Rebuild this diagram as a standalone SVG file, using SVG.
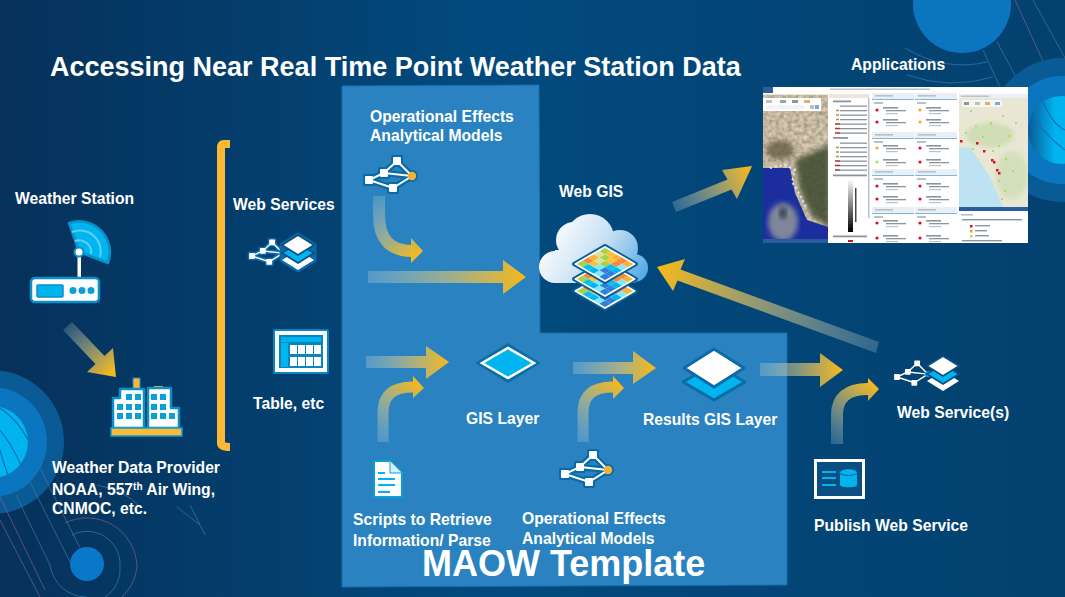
<svg xmlns="http://www.w3.org/2000/svg" width="1065" height="597" viewBox="0 0 1065 597">
<style>
text{font-family:"Liberation Sans",Arial,sans-serif;font-weight:700;fill:#fff}
.l{font-size:15.7px}
.deco{fill:none;stroke:#3f7fb0;stroke-width:1;opacity:.65}
.pink{fill:none;stroke:#8a6a8a;stroke-width:1;opacity:.6}
.dk{fill:none;stroke:#0a6fb5;stroke-width:1.2}
.bar{fill:#8d959c}
.bl{fill:#b9c0c6}
.hd{fill:#e9eff4}
.ln{fill:#7fb7dc}
.cy{fill:#00b4f0}
.wb{fill:#fff;stroke:#0a8fc8;stroke-width:2.5;stroke-linejoin:round}
</style>
<defs>
<linearGradient id="bg" x1="0" y1="0" x2="1" y2="0"><stop offset="0" stop-color="#06315a"/><stop offset=".45" stop-color="#024a7e"/><stop offset="1" stop-color="#03416f"/></linearGradient>
<linearGradient id="a1" gradientUnits="userSpaceOnUse" x1="66" y1="326" x2="112" y2="372"><stop offset="0" stop-color="#b8cfd8" stop-opacity=".2"/><stop offset="1" stop-color="#f4b81c"/></linearGradient>
<linearGradient id="a2" gradientUnits="userSpaceOnUse" x1="368" y1="0" x2="524" y2="0"><stop offset="0" stop-color="#b8cfd8" stop-opacity=".3"/><stop offset="1" stop-color="#f4b81c"/></linearGradient>
<linearGradient id="a3" gradientUnits="userSpaceOnUse" x1="366" y1="0" x2="447" y2="0"><stop offset="0" stop-color="#b8cfd8" stop-opacity=".3"/><stop offset="1" stop-color="#f4b81c"/></linearGradient>
<linearGradient id="a4" gradientUnits="userSpaceOnUse" x1="573" y1="0" x2="654" y2="0"><stop offset="0" stop-color="#b8cfd8" stop-opacity=".3"/><stop offset="1" stop-color="#f4b81c"/></linearGradient>
<linearGradient id="a5" gradientUnits="userSpaceOnUse" x1="760" y1="0" x2="841" y2="0"><stop offset="0" stop-color="#b8cfd8" stop-opacity=".3"/><stop offset="1" stop-color="#f4b81c"/></linearGradient>
<linearGradient id="a6" gradientUnits="userSpaceOnUse" x1="674" y1="207" x2="750" y2="170"><stop offset="0" stop-color="#b8cfd8" stop-opacity=".25"/><stop offset="1" stop-color="#f4b81c"/></linearGradient>
<linearGradient id="a7" gradientUnits="userSpaceOnUse" x1="878" y1="347" x2="660" y2="270"><stop offset="0" stop-color="#b8cfd8" stop-opacity=".25"/><stop offset="1" stop-color="#f4b81c"/></linearGradient>
<linearGradient id="c1" gradientUnits="userSpaceOnUse" x1="379" y1="196" x2="423" y2="251"><stop offset="0" stop-color="#b8cfd8" stop-opacity=".25"/><stop offset="1" stop-color="#f4b81c"/></linearGradient>
<linearGradient id="c2" gradientUnits="userSpaceOnUse" x1="383" y1="442" x2="424" y2="388"><stop offset="0" stop-color="#b8cfd8" stop-opacity=".25"/><stop offset="1" stop-color="#f4b81c"/></linearGradient>
<linearGradient id="c3" gradientUnits="userSpaceOnUse" x1="583" y1="442" x2="624" y2="388"><stop offset="0" stop-color="#b8cfd8" stop-opacity=".25"/><stop offset="1" stop-color="#f4b81c"/></linearGradient>
<linearGradient id="c4" gradientUnits="userSpaceOnUse" x1="837" y1="444" x2="879" y2="389"><stop offset="0" stop-color="#b8cfd8" stop-opacity=".25"/><stop offset="1" stop-color="#f4b81c"/></linearGradient>
<linearGradient id="cloud" gradientUnits="userSpaceOnUse" x1="550" y1="225" x2="645" y2="285"><stop offset="0" stop-color="#fff"/><stop offset=".5" stop-color="#c5dff3"/><stop offset="1" stop-color="#4aa3e4"/></linearGradient>
<linearGradient id="gray" x1="0" y1="0" x2="0" y2="1"><stop offset="0" stop-color="#fff"/><stop offset="1" stop-color="#000"/></linearGradient>
<linearGradient id="rshade" x1="0" y1="0" x2="1" y2="0"><stop offset="0" stop-color="#0a5a96"/><stop offset=".4" stop-color="#00b4f0"/></linearGradient>
<filter id="terrain" x="0" y="0" width="1" height="1"><feTurbulence type="fractalNoise" baseFrequency=".25" numOctaves="3" seed="4"/><feColorMatrix values=".6 0 0 0 .25 .55 0 0 0 .2 .4 0 0 0 .15 0 0 0 0 1"/></filter>
<filter id="b1"><feGaussianBlur stdDeviation="2.5"/></filter>
<filter id="b2"><feGaussianBlur stdDeviation=".5"/></filter>
<filter id="soft" x="0" y="0" width="1" height="1"><feGaussianBlur stdDeviation=".4"/></filter>
<clipPath id="satclip"><rect x="763" y="95" width="65" height="148"/></clipPath>
<clipPath id="mapclip"><rect x="959" y="98" width="69" height="109"/></clipPath>
<g id="net-halo" fill="#0a6aa6" stroke="#0a6aa6" stroke-linejoin="round">
<path d="M0,0L15,-7L28,-19L43,-4L24,8L0,0M15,-7L43,-4" fill="none" stroke-width="6.5"/>
<rect x="-4" y="-4" width="8" height="8" stroke-width="4"/><rect x="11" y="-11" width="8" height="8" stroke-width="4"/><rect x="24" y="-23" width="8" height="8" stroke-width="4"/><rect x="20" y="4" width="8" height="8" stroke-width="4"/><circle cx="43" cy="-4" r="4.5" stroke-width="3"/>
</g>
<g id="net-core" fill="#fff">
<path d="M0,0L15,-7L28,-19L43,-4L24,8L0,0M15,-7L43,-4" fill="none" stroke="#fff" stroke-width="2"/>
<rect x="-4" y="-4" width="8" height="8" rx="1"/><rect x="11" y="-11" width="8" height="8" rx="1"/><rect x="24" y="-23" width="8" height="8" rx="1"/><rect x="20" y="4" width="8" height="8" rx="1"/><circle cx="43" cy="-4" r="4.2" fill="currentColor"/>
</g>
<g id="stack">
<polygon points="-16,15 0,5 16,15 0,25" fill="#fff"/>
<polygon points="-16,8 0,-2 16,8 0,18" fill="#00b4f0" stroke="#0a4f84" stroke-width="1.8"/>
<polygon points="-16,0 0,-10 16,0 0,10" fill="#fff" stroke="#0a4f84" stroke-width="1.8"/>
</g>
<polygon id="t" points="-5.6,0 0,-3.2 5.6,0 0,3.2"/>
<g id="mosaic">
<polygon points="-31,0 0,-18 31,0 0,18" fill="#0a5f94" stroke="#0a5f94" stroke-width="4" stroke-linejoin="round"/>
<polygon points="-29.5,0 0,-17 29.5,0 0,17" fill="#fff" stroke="#fff" stroke-width="2" stroke-linejoin="round"/>
<use href="#t" x="0" y="-12.8" fill="#a5d24a"/><use href="#t" x="5.6" y="-9.6" fill="#f9c23c"/><use href="#t" x="-5.6" y="-9.6" fill="#d8e2a0"/>
<use href="#t" x="11.2" y="-6.4" fill="#f9b233"/><use href="#t" x="0" y="-6.4" fill="#a5d24a"/><use href="#t" x="-11.2" y="-6.4" fill="#f9b233"/>
<use href="#t" x="16.8" y="-3.2" fill="#f58a3c"/><use href="#t" x="5.6" y="-3.2" fill="#f9c23c"/><use href="#t" x="-5.6" y="-3.2" fill="#d8e2a0"/><use href="#t" x="-16.8" y="-3.2" fill="#f58a3c"/>
<use href="#t" x="22.4" y="0" fill="#f9b233"/><use href="#t" x="11.2" y="0" fill="#f58a3c"/><use href="#t" x="0" y="0" fill="#a5d24a"/><use href="#t" x="-11.2" y="0" fill="#f9c23c"/><use href="#t" x="-22.4" y="0" fill="#a5d24a"/>
<use href="#t" x="16.8" y="3.2" fill="#7fe8ff"/><use href="#t" x="5.6" y="3.2" fill="#00c0f5"/><use href="#t" x="-5.6" y="3.2" fill="#7fe8ff"/><use href="#t" x="-16.8" y="3.2" fill="#00c0f5"/>
<use href="#t" x="11.2" y="6.4" fill="#00b4f0"/><use href="#t" x="0" y="6.4" fill="#2d7fd8"/><use href="#t" x="-11.2" y="6.4" fill="#00b4f0"/>
<use href="#t" x="5.6" y="9.6" fill="#2d7fd8"/><use href="#t" x="-5.6" y="9.6" fill="#7fe8ff"/>
<use href="#t" x="0" y="12.8" fill="#2d7fd8"/>
</g>
<g id="card">
<circle cx="0" cy="0" r="1.6" fill="currentColor"/>
<rect class="bar" x="6" y="-3" width="15" height="1.6"/><rect class="bar" x="9" y="0" width="20" height="1.3"/><rect class="bl" x="9" y="3" width="12" height="1.2"/>
</g>
<g id="sec">
<rect class="hd" x="0" y="0" width="42" height="6"/><rect class="bl" x="3" y="2" width="18" height="1.6"/>
<rect class="ln" x="0" y="6" width="42" height="1"/><rect class="bl" x="2" y="9" width="9" height="2"/>
</g>
</defs>

<rect id="background" width="1065" height="597" fill="url(#bg)"/>

<g id="decor-right">
<circle cx="962" cy="4" r="49" fill="#0c75c0"/>
<path class="pink" d="M1015,0L1047,70"/>
<path class="deco" d="M1033,0L1065,58"/>
<path class="deco" d="M997,42L1015,75"/>
<path class="deco" d="M983,50L1000,87"/>
<path class="deco" d="M905,48Q945,72 987,62"/>
<path class="deco" d="M907,75Q950,90 993,77"/>
<circle cx="1062" cy="130" r="72" fill="#0a5a96"/>
<circle cx="1062" cy="130" r="54" fill="#0c75c0"/>
<circle cx="1062" cy="130" r="34" fill="url(#rshade)"/>
<path class="dk" d="M1040,95Q1052,125 1065,130M1028,112Q1045,135 1065,150"/>
</g>
<g id="decor-left">
<circle cx="-8" cy="442" r="72" fill="#0a5a96"/>
<circle cx="-8" cy="442" r="55" fill="#0c75c0"/>
<circle cx="-8" cy="442" r="36" fill="#00b4f0"/>
<path class="dk" d="M0,408Q18,420 28,440M0,430Q12,445 21,465M0,450Q4,465 8,475"/>
<path class="deco" d="M40,468L80,548"/>
<path class="deco" d="M30,482L70,562"/>
<path class="deco" d="M16,495L50,565A37,37 0 0 0 87,597"/>
<path class="pink" d="M0,520L40,597"/>
<path class="pink" d="M0,497L45,590"/>
<path class="deco" d="M72,535A33,33 0 0 1 120,565A33,33 0 0 1 105,597"/>
<path class="pink" d="M65,523A50,50 0 0 1 137,567A50,50 0 0 1 122,597"/>
<path class="deco" d="M97,485Q125,490 140,507"/>
<path class="deco" d="M177,507L200,525M190,505L205,535"/>
<circle cx="87" cy="564" r="17" fill="#0a78c8"/>
</g>

<polygon id="panel" points="342,86 539,85 540,333 787,333 787,585 342,587" fill="#2a83c0" stroke="#1c6da8" stroke-width="1"/>

<g id="screenshot" filter="url(#soft)">
<rect x="763" y="87" width="265" height="156" fill="#fff"/>
<rect x="763" y="87" width="10" height="6" fill="#2b5d9e"/>
<rect x="830" y="88.500" width="100" height="1.500" class="bl"/>
<rect x="763" y="94" width="65" height="4" fill="#f0e4d8"/><rect x="829" y="94" width="40" height="4" fill="#f0e4d8"/>
<g clip-path="url(#satclip)">
<rect x="763" y="95" width="65" height="148" filter="url(#terrain)"/>
<polygon points="795,160 830,145 830,228 812,216 800,190" fill="#3d4a2d" opacity=".85" filter="url(#b1)"/>
<ellipse cx="780" cy="150" rx="14" ry="10" fill="#5a4f38" opacity=".7" filter="url(#b1)"/>
<polygon points="763,168 790,168 795,193 807,220 828,227 828,243 763,243" fill="#1b2f9e" filter="url(#b2)"/>
<ellipse cx="783" cy="222" rx="15" ry="19" fill="#7f8699" filter="url(#b1)"/>
<ellipse cx="783" cy="213" rx="4" ry="6" fill="#3a4150" filter="url(#b1)"/>
<path d="M770,168L785,165L795,170L792,182L800,195L806,208" fill="none" stroke="#dfe6f5" stroke-width="2" stroke-dasharray="2 3"/>
<rect x="763" y="239" width="65" height="4" fill="#2b5d9e"/>
</g>
<rect x="763" y="98" width="58" height="13" fill="#fff"/>
<rect x="766" y="100" width="6" height="3" class="bl"/><rect x="780" y="100" width="6" height="3" fill="#7fb39a"/><rect x="792" y="100" width="6" height="3" class="bar"/><rect x="804" y="100" width="6" height="3" fill="#e0b070"/>
<rect x="766" y="105" width="38" height="4.500" fill="#f1f3f5"/><rect x="810" y="105" width="4" height="4" class="bl"/><rect x="815" y="105" width="4" height="4" fill="#7fa8d8"/>
<g id="legend">
<rect class="bar" x="833" y="100.500" width="18" height="1.800"/>
<g fill="#8d959c">
<rect x="840" y="105.500" width="27" height="1.300"/><rect x="840" y="110" width="27" height="1.300"/><rect x="840" y="114.500" width="27" height="1.300"/><rect x="840" y="119" width="27" height="1.300"/><rect x="840" y="123.500" width="27" height="1.300"/><rect x="840" y="128" width="27" height="1.300"/><rect x="840" y="132.500" width="27" height="1.300"/>
<rect x="840" y="142.500" width="27" height="1.300"/><rect x="840" y="147" width="27" height="1.300"/><rect x="840" y="151.500" width="27" height="1.300"/><rect x="840" y="156" width="27" height="1.300"/><rect x="840" y="160.500" width="27" height="1.300"/><rect x="840" y="165" width="27" height="1.300"/><rect x="840" y="169.500" width="27" height="1.300"/>
</g>
<path d="M836,110.500h3M836,115h3M836,119.500h3" stroke="#b09040" stroke-width="1.500"/>
<path d="M835,124h5M835,128.500h5M835,133h5" stroke="#a83030" stroke-width="1.500"/>
<path d="M836,147.500h3M836,152h3M836,156.500h3" stroke="#b09040" stroke-width="1.500"/>
<path d="M835,161h5M835,165.500h5M835,170h5" stroke="#a83030" stroke-width="1.500"/>
<rect class="bar" x="833" y="137" width="15" height="1.800"/>
<rect class="bar" x="833" y="174.500" width="34" height="1.800"/>
<rect x="848" y="179" width="5" height="53" fill="url(#gray)"/>
<rect x="855" y="188" width="1.500" height="34" fill="#444"/>
<rect class="bar" x="833" y="235.500" width="34" height="1.800"/>
<rect x="848" y="240" width="5" height="2" fill="#d01818"/>
</g>
<rect x="868" y="98" width="1.500" height="120" class="bl"/>
<g id="cards">
<use href="#sec" x="872" y="93"/><use href="#sec" x="915" y="93"/><use href="#sec" x="872" y="132"/><use href="#sec" x="915" y="132"/><use href="#sec" x="872" y="169"/><use href="#sec" x="915" y="169"/><use href="#sec" x="872" y="207"/><use href="#sec" x="915" y="207"/>
<use href="#card" x="877" y="110" color="#e01020"/><use href="#card" x="877" y="122" color="#e01020"/>
<use href="#card" x="920" y="110" color="#f5a820"/><use href="#card" x="920" y="122" color="#f5a820"/>
<use href="#card" x="877" y="148" color="#f5a820"/><use href="#card" x="877" y="162" color="#a8e060"/>
<use href="#card" x="920" y="148" color="#e01020"/><use href="#card" x="920" y="162" color="#e01020"/>
<use href="#card" x="877" y="186" color="#e01020"/><use href="#card" x="877" y="199" color="#e01020"/>
<use href="#card" x="920" y="186" color="#e01020"/><use href="#card" x="920" y="199" color="#e01020"/>
<use href="#card" x="877" y="223" color="#e01020"/><use href="#card" x="877" y="238" color="#e01020"/>
<use href="#card" x="920" y="223" color="#e01020"/><use href="#card" x="920" y="238" color="#e01020"/>
</g>
<rect x="959" y="94" width="69" height="5" fill="#e9eff4"/><rect x="961" y="95.500" width="28" height="1.500" class="bl"/>
<g clip-path="url(#mapclip)">
<rect x="959" y="98" width="69" height="109" fill="#e9e7d3"/>
<ellipse cx="990" cy="135" rx="24" ry="12" fill="#cfdcb4" filter="url(#b1)"/>
<ellipse cx="1012" cy="175" rx="16" ry="24" fill="#d3dfbb" filter="url(#b1)"/>
<polygon points="959,148 970,147 990,177 1003,207 959,207" fill="#bde3f3"/>
<g fill="#9fe36a">
<rect x="970" y="110" width="2" height="2"/><rect x="985" y="104" width="2" height="2"/><rect x="1002" y="115" width="2" height="2"/><rect x="1015" y="122" width="2" height="2"/><rect x="975" y="125" width="2" height="2"/><rect x="965" y="132" width="2" height="2"/><rect x="990" y="122" width="2" height="3"/><rect x="1008" y="135" width="2" height="2"/><rect x="982" y="136" width="2" height="2"/><rect x="998" y="145" width="2" height="2"/><rect x="1005" y="158" width="2" height="2"/><rect x="992" y="150" width="2" height="2"/><rect x="998" y="180" width="2" height="2"/><rect x="1004" y="190" width="2" height="2"/><rect x="1001" y="198" width="2" height="2"/><rect x="1012" y="170" width="2" height="2"/><rect x="972" y="148" width="2" height="2"/>
</g>
<g fill="#d81020">
<rect x="960" y="140" width="2.500" height="2.500"/><rect x="976" y="142" width="2.500" height="2.500"/><rect x="983" y="150" width="2.500" height="2.500"/><rect x="991" y="159" width="2.500" height="2.500"/><rect x="993" y="161" width="2.500" height="2.500"/><rect x="996" y="169" width="2.500" height="2.500"/><rect x="998" y="172" width="2.500" height="2.500"/>
</g>
</g>
<rect x="962" y="100" width="40" height="7" fill="#f6f6f2"/><rect x="964" y="102" width="5" height="3" class="bar"/><rect x="975" y="102" width="5" height="3" class="bl"/><rect x="985" y="102" width="5" height="3" fill="#e0b070"/><rect x="995" y="102" width="5" height="3" fill="#7fa8d8"/>
<rect x="959" y="207" width="69" height="4" fill="#2b5d9e"/>
<rect x="961" y="214" width="12" height="1.600" class="bl"/>
<rect x="962" y="219" width="60" height="1.400" class="bar"/>
<rect x="970" y="225" width="2.500" height="2.500" fill="#d81020"/><rect x="975" y="225" width="15" height="1.400" class="bar"/>
<rect x="970" y="230" width="2.500" height="2.500" fill="#f5a820"/><rect x="975" y="230" width="12" height="1.400" class="bar"/>
<rect x="970" y="235" width="2.500" height="2.500" fill="#a8e060"/><rect x="975" y="235" width="14" height="1.400" class="bar"/>
<rect x="962" y="240" width="40" height="1.400" class="bar"/>
</g>

<g id="connectors">
<polygon points="63,330 72,322 104.500,356 113,348 116,377 87,372 95.500,364" fill="url(#a1)"/>
<polygon points="368,271 503,271 503,260 526,277 503,294 503,283 368,283" fill="url(#a2)"/>
<polygon points="366,356 426,356 426,346 449,362 426,379 426,368 366,368" fill="url(#a3)"/>
<polygon points="573,362 633,362 633,351 656,368 633,384 633,374 573,374" fill="url(#a4)"/>
<polygon points="760,363 820,363 820,353 843,370 820,387 820,376 760,376" fill="url(#a5)"/>
<polygon points="672,202 727.500,179.500 722,170 752,166 737,199 731.500,189.500 676,212" fill="url(#a6)"/>
<polygon points="879,342 680.500,269.500 685,259 657,267 673,291 677.500,280.500 876,353" fill="url(#a7)"/>
<path d="M379,196V215Q379,251 412,251" fill="none" stroke="url(#c1)" stroke-width="12"/>
<polygon points="411,238 423,251 411,263" fill="url(#c1)"/>
<path d="M383,442V412Q383,387 413,387" fill="none" stroke="url(#c2)" stroke-width="11"/>
<polygon points="413,376 424,388 413,398" fill="url(#c2)"/>
<path d="M583,442V412Q583,387 613,387" fill="none" stroke="url(#c3)" stroke-width="11"/>
<polygon points="613,376 624,388 613,399" fill="url(#c3)"/>
<path d="M837,444V415Q837,389 868,389" fill="none" stroke="url(#c4)" stroke-width="12"/>
<polygon points="868,378 879,389 868,401" fill="url(#c4)"/>
</g>

<g id="bracket"><path d="M230,144H224Q221,144 221,148V443Q221,447 230,447" fill="none" stroke="#fbb936" stroke-width="8"/></g>

<g id="title"><text x="50" y="76" font-size="27">Accessing Near Real Time Point Weather Station Data</text></g>

<g id="weather-station">
<text class="l" x="15" y="204">Weather Station</text>
<path d="M79,252L69,223A31,31 0 0 1 108,263Z" fill="#00b4f0" stroke="#0a8fc8" stroke-width="2.500" stroke-linejoin="round"/>
<path d="M72,232A21,21 0 0 1 100,257M75,241A12,12 0 0 1 91,254" fill="none" stroke="#5fd0f5" stroke-width="2"/>
<rect x="77.500" y="252" width="3.500" height="26" fill="#fff"/>
<circle cx="79" cy="252" r="4.500" fill="#fff" stroke="#0a8fc8" stroke-width="2"/>
<rect x="31" y="278" width="68" height="24" rx="4" class="wb"/>
<rect x="37" y="285" width="26" height="12" rx="1" class="cy" stroke="#0a8fc8" stroke-width="1.500"/>
<circle cx="73" cy="290.500" r="3.500" fill="#0a9fd8"/><circle cx="82" cy="290.500" r="3.500" fill="#0a9fd8"/><circle cx="91" cy="290.500" r="3.500" fill="#0a9fd8"/>
</g>

<g id="weather-data-provider">
<rect x="133" y="378" width="7" height="12" fill="#fbb936" stroke="#0a8fc8" stroke-width="1"/>
<rect x="154" y="386" width="9" height="4" fill="#fbb936"/>
<path d="M120,398V389H144V428H113V398Z" class="wb" stroke-width="2"/>
<path d="M148,428V388H171V408H179V428Z" class="wb" stroke-width="2"/>
<g fill="#0a9fd8">
<rect x="126" y="394" width="6" height="6"/><rect x="135" y="394" width="6" height="6"/>
<rect x="117" y="404" width="6" height="6"/><rect x="126" y="404" width="6" height="6"/><rect x="135" y="404" width="6" height="6"/>
<rect x="117" y="413" width="6" height="6"/><rect x="126" y="413" width="6" height="6"/><rect x="135" y="413" width="6" height="6"/>
<rect x="151" y="394" width="6" height="6"/><rect x="160" y="394" width="6" height="6"/>
<rect x="151" y="404" width="6" height="6"/><rect x="160" y="404" width="6" height="6"/>
<rect x="151" y="413" width="6" height="6"/><rect x="160" y="413" width="6" height="6"/><rect x="169" y="413" width="6" height="6"/>
</g>
<rect x="111" y="428" width="71" height="8" fill="#fbb936" stroke="#0a9fd8" stroke-width="1.500"/>
<text class="l" x="52" y="473">Weather Data Provider</text>
<text class="l" x="52" y="495">NOAA, 557<tspan font-size="10" dy="-5">th</tspan><tspan dy="5"> Air Wing,</tspan></text>
<text class="l" x="52" y="514">CNMOC, etc.</text>
</g>

<g id="web-services">
<text class="l" x="233" y="210">Web Services</text>
<use href="#net-halo" transform="translate(252,256) scale(.72)"/>
<use href="#net-core" transform="translate(252,256) scale(.72)" color="#00a0e0"/>
<g fill="#0a6aa6" stroke="#0a6aa6" stroke-width="5" stroke-linejoin="round"><polygon points="282,245 298,235 314,245 314,260 298,270 282,260"/></g>
<use href="#stack" x="298" y="245"/>
</g>

<g id="table">
<rect x="274" y="330" width="54" height="43" rx="1" fill="#fff" stroke="#0a85bf" stroke-width="2"/>
<rect x="279" y="335" width="44" height="33" fill="#0a85bf"/>
<rect x="281" y="337" width="40" height="5" class="cy"/><rect x="281" y="343" width="7" height="24" class="cy"/>
<g fill="#fff"><rect x="290" y="345" width="7" height="9"/><rect x="298" y="345" width="7" height="9"/><rect x="306" y="345" width="7" height="9"/><rect x="314" y="345" width="7" height="9"/><rect x="290" y="357" width="7" height="9"/><rect x="298" y="357" width="7" height="9"/><rect x="306" y="357" width="7" height="9"/><rect x="314" y="357" width="7" height="9"/></g>
<text class="l" x="253" y="409">Table, etc</text>
</g>

<g id="models-top">
<text class="l" x="370" y="122">Operational Effects</text>
<text class="l" x="370" y="141">Analytical Models</text>
<use href="#net-halo" x="369" y="180"/><use href="#net-core" x="369" y="180" color="#f5b335"/>
</g>

<g id="web-gis">
<text class="l" x="559" y="197">Web GIS</text>
<g fill="url(#cloud)"><circle cx="555" cy="267" r="16"/><circle cx="574" cy="240" r="18"/><circle cx="590" cy="238" r="24"/><circle cx="620" cy="248" r="18"/><circle cx="634" cy="268" r="14"/><rect x="555" y="250" width="80" height="33"/></g>
<use href="#mosaic" x="605" y="291"/><use href="#mosaic" x="605" y="279"/><use href="#mosaic" x="605" y="264"/>
</g>

<g id="gis-layer">
<polygon points="477,363 508,344 539,363 508,382" fill="#0c6ca6" stroke="#0c6ca6" stroke-width="2" stroke-linejoin="round"/>
<polygon points="482,363 508,348 534,363 508,378" fill="#00b4f0" stroke="#fff" stroke-width="2.500"/>
<text class="l" x="466" y="424">GIS Layer</text>
</g>

<g id="results-layer">
<polygon points="683,382 714,364 745,382 714,400" fill="#00b4f0" stroke="#0c6ca6" stroke-width="3" stroke-linejoin="round"/>
<polygon points="684,368 714,349 744,368 714,387" fill="#fff" stroke="#0c6ca6" stroke-width="3" stroke-linejoin="round"/>
<text class="l" x="643" y="425">Results GIS Layer</text>
</g>

<g id="scripts">
<path d="M374,461H390L402,473V497H374Z" fill="#fff" stroke="#0a9fd8" stroke-width="2" stroke-linejoin="round"/>
<path d="M390,461V473H402" fill="#d8eef9" stroke="#0a9fd8" stroke-width="1"/>
<g class="cy"><rect x="378" y="472" width="7" height="2"/><rect x="378" y="478" width="17" height="2"/><rect x="378" y="484" width="17" height="2"/><rect x="378" y="491" width="12" height="2"/></g>
<text class="l" x="353" y="525">Scripts to Retrieve</text>
<text class="l" x="353" y="546">Information/ Parse</text>
</g>

<g id="models-bottom">
<use href="#net-halo" x="565" y="474"/><use href="#net-core" x="565" y="474" color="#f5b335"/>
<text class="l" x="522" y="524">Operational Effects</text>
<text class="l" x="522" y="544">Analytical Models</text>
</g>

<g id="web-service-out">
<use href="#net-core" transform="translate(897,377) scale(.72)" color="#00a0e0"/>
<use href="#stack" x="943" y="366"/>
<text class="l" x="897" y="418">Web Service(s)</text>
</g>

<g id="publish">
<rect x="815.500" y="460.500" width="48" height="37" fill="#0a4f82" stroke="#fff" stroke-width="3"/>
<g class="cy"><rect x="822" y="471" width="14" height="2"/><rect x="822" y="477" width="14" height="2"/><rect x="822" y="484" width="14" height="2"/>
<path d="M840,473C840,468 857,468 857,473V485C857,488 840,488 840,485Z"/></g>
<path d="M840,473.500C843,476 854,476 857,473.500" fill="none" stroke="#0a4f82" stroke-width="1"/>
<text class="l" x="814" y="531">Publish Web Service</text>
</g>

<g id="applications"><text class="l" x="851" y="70">Applications</text></g>

<g id="maow-label"><text x="422" y="576" font-size="36">MAOW Template</text></g>
</svg>
